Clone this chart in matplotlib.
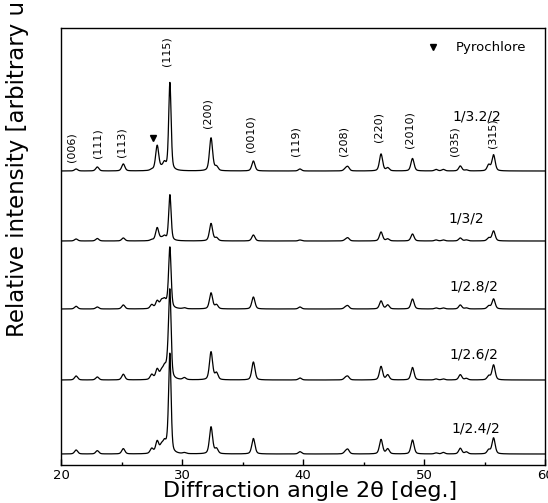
import numpy as np
import matplotlib
matplotlib.use("Agg")
import matplotlib.pyplot as plt

# ---------------- data ----------------
two_theta_peaks = [21.25, 23.0, 25.15, 27.5, 27.95, 28.3, 28.55, 28.85, 29.0, 30.2,
                   32.4, 32.85, 35.9, 39.75, 43.5, 43.7, 46.45, 47.0, 49.05, 51.0,
                   51.6, 53.0, 53.5, 55.35, 55.75]

sample_names = ["1/3.2/2", "1/3/2", "1/2.8/2", "1/2.6/2", "1/2.4/2"]

h_1_3p2_2 = [2, 4, 7, 1, 25, 2, 7, 0, 88, 0, 33, 4, 10, 2, 2, 4, 17, 3, 12.5, 1.5, 1.5, 5, 1, 6, 16]
h_1_3_2   = [2, 2.5, 3, 1, 13, 2, 4, 0, 46, 0, 17.5, 3, 6, 1, 1, 3, 9, 2, 7, 1, 1, 3, 1, 3, 10]
h_1_2p8_2 = [2.7, 2, 4, 4, 7.5, 7, 7.5, 5, 59, 1, 16, 4, 12, 2, 1.5, 3, 8, 4, 10, 1, 1, 4, 1, 3, 10]
h_1_2p6_2 = [4, 3, 5.7, 5, 10, 7, 10.7, 16, 82, 2, 28, 6.7, 18, 2, 2, 3.3, 13.5, 5, 12.5, 1, 1, 5.3, 1.5, 4, 15]
h_1_2p4_2 = [4, 3.3, 5.3, 5, 12, 7, 10, 8, 96, 1, 27, 5, 15.5, 2.3, 2, 4.3, 14.5, 5, 14, 1, 1.5, 5.7, 2, 4, 16]

hkl_labels = ["(006)", "(111)", "(113)", "(115)", "(200)", "(0010)",
              "(119)", "(208)", "(220)", "(2010)", "(035)", "(315)"]

x_ticks = [20, 30, 40, 50, 60]

# ---------------- layout ----------------
offsets = [294, 224, 156, 85, 11]
hkl_x = [20.83, 22.98, 25.04, 28.68, 32.07, 35.70, 39.34, 43.31, 46.2, 48.84, 52.56, 55.70]
hkl_y = [318, 322, 323, 414, 352, 331, 324, 324, 338, 335, 324, 332]
name_x = [52.31, 51.98, 52.07, 52.07, 52.23]
name_y = [349, 247, 179, 110, 36]

series = [h_1_3p2_2, h_1_3_2, h_1_2p8_2, h_1_2p6_2, h_1_2p4_2]

x = np.linspace(20, 60, 4001)


def profile(heights):
    y = np.zeros_like(x)
    for p, h in zip(two_theta_peaks, heights):
        w = 0.10 if abs(p - 29.0) < 0.01 else 0.13
        g = np.exp(-0.5 * ((x - p) / w) ** 2)
        lor = 1.0 / (1.0 + ((x - p) / (w * 1.2)) ** 2)
        y += h * (0.6 * g + 0.4 * lor)
    return y


fig = plt.figure(figsize=(5.48, 5.03), dpi=100)
ax = fig.add_axes([61 / 548, 1 - 465 / 503, 484 / 548, 437 / 503])

for hs, off in zip(series, offsets):
    ax.plot(x, profile(hs) + off, color="black", lw=0.9)

ax.set_xlim(20, 60)
ax.set_ylim(0, 437)
ax.set_yticks([])
ax.set_xticks(x_ticks)
ax.set_xticks([25, 35, 45, 55], minor=True)
ax.tick_params(axis="x", which="major", direction="in", length=4, width=1.0,
               labelsize=9.5, pad=3, top=False)
ax.tick_params(axis="x", which="minor", direction="in", length=2.5, width=1.0, top=False)
for s in ax.spines.values():
    s.set_linewidth(1.0)

fam = ["DejaVu Sans"]
for lab, lx, ly in zip(hkl_labels, hkl_x, hkl_y):
    ax.text(lx, ly, lab, rotation=90, ha="center", va="center", fontsize=8, family=fam)

for nm, nx, ny in zip(sample_names, name_x, name_y):
    ax.text(nx, ny, nm, ha="left", va="center", fontsize=10, family=fam)

# pyrochlore markers
ax.plot([27.58], [327], marker="v", color="black", ms=5, ls="none")
ax.plot([50.74], [418], marker="v", color="black", ms=5, ls="none")
ax.text(52.64, 418, "Pyrochlore", ha="left", va="center", fontsize=9.5, family=fam)

ax.set_xlabel("Diffraction angle 2\u03b8 [deg.]", fontsize=16, family=fam, va="top")
ax.xaxis.set_label_coords(0.514, -0.037)

fig.text(18 / 548, 1 - 337 / 503, "Relative intensity [arbitrary unit]", rotation=90,
         ha="center", va="bottom", fontsize=16.5, family=fam)

fig.savefig("out.png", dpi=100)
